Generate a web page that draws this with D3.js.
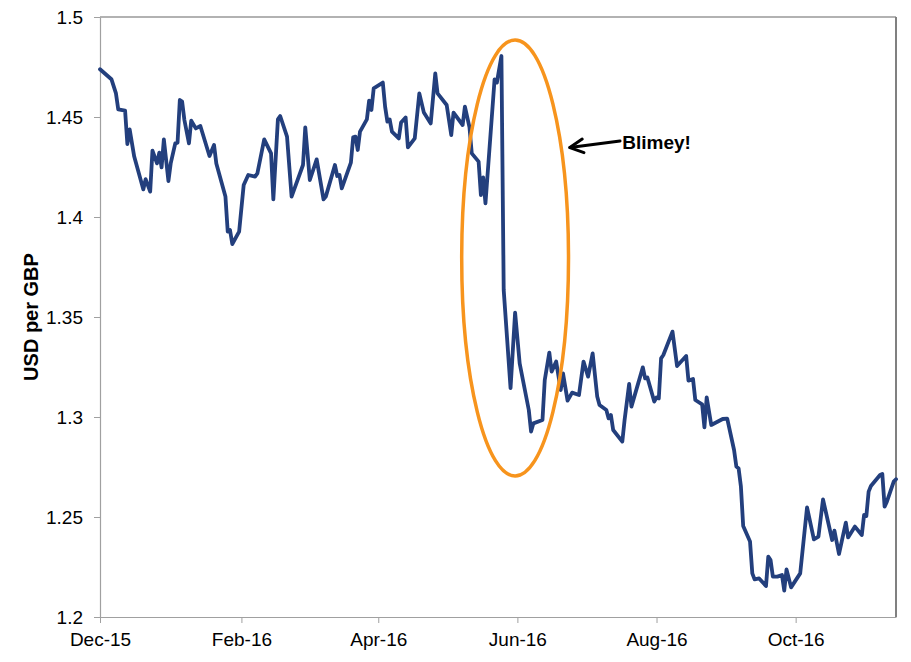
<!DOCTYPE html>
<html><head><meta charset="utf-8">
<script src="https://cdn.jsdelivr.net/npm/d3@7"></script>
<style>html,body{margin:0;padding:0;background:#fff;} svg{display:block;font-family:"Liberation Sans",Arial,sans-serif;}</style>
</head><body><svg id="chart" width="911" height="662"></svg>
<script>
const dates = [
"2015-12-01","2015-12-06","2015-12-08","2015-12-09","2015-12-12","2015-12-13","2015-12-14","2015-12-16","2015-12-20","2015-12-21",
"2015-12-23","2015-12-24","2015-12-26","2015-12-27","2015-12-28","2015-12-29","2015-12-31","2016-01-01","2016-01-03","2016-01-04",
"2016-01-05","2016-01-06","2016-01-07","2016-01-09","2016-01-10","2016-01-12","2016-01-14","2016-01-18","2016-01-20","2016-01-21",
"2016-01-25","2016-01-26","2016-01-27","2016-01-28","2016-01-31","2016-02-02","2016-02-04","2016-02-07","2016-02-08","2016-02-11",
"2016-02-14","2016-02-15","2016-02-17","2016-02-18","2016-02-21","2016-02-23","2016-02-28","2016-02-29","2016-03-02","2016-03-05",
"2016-03-08","2016-03-09","2016-03-13","2016-03-14","2016-03-15","2016-03-16","2016-03-20","2016-03-21","2016-03-22","2016-03-23",
"2016-03-24","2016-03-27","2016-03-28","2016-03-29","2016-03-30","2016-04-03","2016-04-04","2016-04-05","2016-04-06","2016-04-07",
"2016-04-10","2016-04-11","2016-04-13","2016-04-14","2016-04-17","2016-04-19","2016-04-21","2016-04-24","2016-04-26","2016-04-27",
"2016-05-01","2016-05-03","2016-05-04","2016-05-08","2016-05-09","2016-05-11","2016-05-12","2016-05-15","2016-05-16","2016-05-17",
"2016-05-18","2016-05-22","2016-05-23","2016-05-25","2016-05-26","2016-05-29","2016-05-31","2016-06-02","2016-06-06","2016-06-07",
"2016-06-08","2016-06-12","2016-06-13","2016-06-15","2016-06-16","2016-06-18","2016-06-20","2016-06-21","2016-06-23","2016-06-25",
"2016-06-28","2016-06-30","2016-07-02","2016-07-04","2016-07-06","2016-07-07","2016-07-10","2016-07-11","2016-07-12","2016-07-13",
"2016-07-17","2016-07-18","2016-07-20","2016-07-21","2016-07-26","2016-07-27","2016-07-28","2016-07-31","2016-08-01","2016-08-02",
"2016-08-03","2016-08-04","2016-08-08","2016-08-10","2016-08-14","2016-08-15","2016-08-17","2016-08-18","2016-08-21","2016-08-22",
"2016-08-23","2016-08-25","2016-08-30","2016-09-01","2016-09-04","2016-09-05","2016-09-06","2016-09-07","2016-09-08","2016-09-11",
"2016-09-12","2016-09-13","2016-09-15","2016-09-18","2016-09-19","2016-09-20","2016-09-21","2016-09-23","2016-09-25","2016-09-26",
"2016-09-27","2016-09-29","2016-10-03","2016-10-06","2016-10-09","2016-10-11","2016-10-13","2016-10-17","2016-10-18","2016-10-20",
"2016-10-23","2016-10-24","2016-10-27","2016-10-30","2016-10-31","2016-11-01","2016-11-02","2016-11-03","2016-11-07","2016-11-08",
"2016-11-09","2016-11-10","2016-11-13","2016-11-14"
];
const usdPerGbp = [
1.4739,1.4689,1.4618,1.4538,1.4532,1.4365,1.4438,1.4302,1.4138,1.4189,
1.4127,1.4332,1.4268,1.4322,1.4248,1.4388,1.4180,1.4268,1.4368,1.4372,
1.4585,1.4577,1.4485,1.4368,1.4482,1.4443,1.4455,1.4305,1.4360,1.4268,
1.4102,1.3927,1.3935,1.3865,1.3927,1.4160,1.4210,1.4202,1.4218,1.4388,
1.4318,1.4088,1.4488,1.4505,1.4402,1.4102,1.4260,1.4448,1.4185,1.4288,
1.4088,1.4102,1.4260,1.4205,1.4210,1.4143,1.4272,1.4398,1.4402,1.4335,
1.4427,1.4488,1.4582,1.4535,1.4643,1.4672,1.4552,1.4477,1.4488,1.4427,
1.4393,1.4472,1.4498,1.4348,1.4393,1.4618,1.4522,1.4468,1.4718,1.4618,
1.4560,1.4410,1.4522,1.4460,1.4552,1.4448,1.4318,1.4277,1.4110,1.4198,
1.4068,1.4688,1.4672,1.4805,1.3635,1.3144,1.3522,1.3268,1.3035,1.2927,
1.2968,1.2985,1.3185,1.3322,1.3227,1.3277,1.3135,1.3218,1.3082,1.3122,
1.3110,1.3277,1.3202,1.3318,1.3102,1.3060,1.3035,1.2993,1.3010,1.2935,
1.2877,1.2985,1.3165,1.3052,1.3248,1.3193,1.3198,1.3077,1.3098,1.3093,
1.3293,1.3310,1.3427,1.3255,1.3305,1.3182,1.3190,1.3085,1.3063,1.2948,
1.3098,1.2960,1.2990,1.2992,1.2835,1.2752,1.2743,1.2652,1.2455,1.2377,
1.2218,1.2188,1.2193,1.2155,1.2302,1.2285,1.2202,1.2202,1.2210,1.2132,
1.2238,1.2148,1.2218,1.2548,1.2388,1.2402,1.2588,1.2385,1.2432,1.2315,
1.2472,1.2398,1.2452,1.2410,1.2510,1.2505,1.2627,1.2655,1.2710,1.2715,
1.2552,1.2577,1.2677,1.2689
];
const xDomain = ["2015-12-01","2016-11-14"];
const yDomain = [1.2, 1.5];
const yTicks = [1.2, 1.25, 1.3, 1.35, 1.4, 1.45, 1.5];
const yTickLabels = ["1.2","1.25","1.3","1.35","1.4","1.45","1.5"];
const xTickDates = ["2015-12-01","2016-02-01","2016-04-01","2016-06-01","2016-08-01","2016-10-01"];
const xTickLabels = ["Dec-15","Feb-16","Apr-16","Jun-16","Aug-16","Oct-16"];
const yTitle = "USD per GBP";
const noteText = "Blimey!";
const noteTextAt = {date:"2016-07-17", value:1.434};
const noteArrowTail = {date:"2016-07-16", value:1.438};
const noteArrowTip = {date:"2016-06-24", value:1.4347};
const ring = {date:"2016-05-31", value:1.3795, halfWidthDays:23.4, halfHeight:0.109};

const W = 911, H = 662;
const margin = {top:17, right:15, bottom:45, left:100};
const parse = d3.utcParse("%Y-%m-%d");
const svg = d3.select("#chart");

const x = d3.scaleUtc().domain(xDomain.map(parse)).range([margin.left, W - margin.right]);
const y = d3.scaleLinear().domain(yDomain).range([H - margin.bottom, margin.top]);

const data = dates.map((d, i) => ({date: parse(d), v: usdPerGbp[i]}));

// frame (top & right)
const [x0, x1] = x.range();
const [yb, yt] = y.range();
svg.append("line").attr("x1", x0).attr("x2", x1).attr("y1", yt).attr("y2", yt)
  .attr("stroke", "#666").attr("stroke-width", 1.2);
svg.append("line").attr("x1", x1).attr("x2", x1).attr("y1", yt).attr("y2", yb)
  .attr("stroke", "#808080").attr("stroke-width", 2);

// y axis
const gy = svg.append("g").attr("transform", `translate(${x0},0)`)
  .call(d3.axisLeft(y).tickValues(yTicks).tickFormat((d, i) => yTickLabels[i])
    .tickSize(6).tickSizeOuter(0).tickPadding(11));
gy.select(".domain").attr("stroke", "#a0a0a0").attr("stroke-width", 1.2);
gy.selectAll(".tick line").attr("stroke", "#a0a0a0");
gy.selectAll("text").attr("font-size", 19).attr("fill", "#000")
  .attr("font-family", '"Liberation Sans", Arial, sans-serif');

// x axis
const gx = svg.append("g").attr("transform", `translate(0,${yb})`)
  .call(d3.axisBottom(x).tickValues(xTickDates.map(parse)).tickFormat((d, i) => xTickLabels[i])
    .tickSize(6).tickSizeOuter(0).tickPadding(10));
gx.select(".domain").attr("stroke", "#a0a0a0").attr("stroke-width", 1.2);
gx.selectAll(".tick line").attr("stroke", "#a0a0a0");
gx.selectAll("text").attr("font-size", 19).attr("fill", "#000")
  .attr("font-family", '"Liberation Sans", Arial, sans-serif');

// y title
svg.append("text")
  .attr("transform", `translate(38,${(yb + yt) / 2}) rotate(-90)`)
  .attr("text-anchor", "middle")
  .attr("font-size", 20).attr("font-weight", "bold").attr("fill", "#000")
  .text(yTitle);

// line
svg.append("path").datum(data)
  .attr("fill", "none").attr("stroke", "#233F7D").attr("stroke-width", 3.8)
  .attr("stroke-linejoin", "round").attr("stroke-linecap", "round")
  .attr("d", d3.line().x(d => x(d.date)).y(d => y(d.v)));

// ellipse annotation
const rc = parse(ring.date);
const cx = x(rc), cy = y(ring.value);
const rx = x(d3.utcHour.offset(rc, Math.round(ring.halfWidthDays * 24))) - cx;
const ry = y(ring.value - ring.halfHeight) - cy;
svg.append("ellipse").attr("cx", cx).attr("cy", cy).attr("rx", rx).attr("ry", ry)
  .attr("fill", "none").attr("stroke", "#F7941D").attr("stroke-width", 3.5);

// arrow
const tx = x(parse(noteArrowTail.date)), ty = y(noteArrowTail.value);
const px = x(parse(noteArrowTip.date)), py = y(noteArrowTip.value);
const ang = Math.atan2(ty - py, tx - px);
const armLen = 15, spread = 27 * Math.PI / 180;
svg.append("line").attr("x1", tx).attr("y1", ty).attr("x2", px).attr("y2", py)
  .attr("stroke", "#000").attr("stroke-width", 3).attr("stroke-linecap", "round");
svg.append("path")
  .attr("d", `M${px + armLen * Math.cos(ang - spread)},${py + armLen * Math.sin(ang - spread)} L${px},${py} L${px + armLen * Math.cos(ang + spread)},${py + armLen * Math.sin(ang + spread)}`)
  .attr("fill", "none").attr("stroke", "#000").attr("stroke-width", 3)
  .attr("stroke-linecap", "round").attr("stroke-linejoin", "round");

svg.append("text")
  .attr("x", x(parse(noteTextAt.date))).attr("y", y(noteTextAt.value))
  .attr("font-size", 19).attr("font-weight", "bold").attr("fill", "#000")
  .text(noteText);
</script></body></html>
